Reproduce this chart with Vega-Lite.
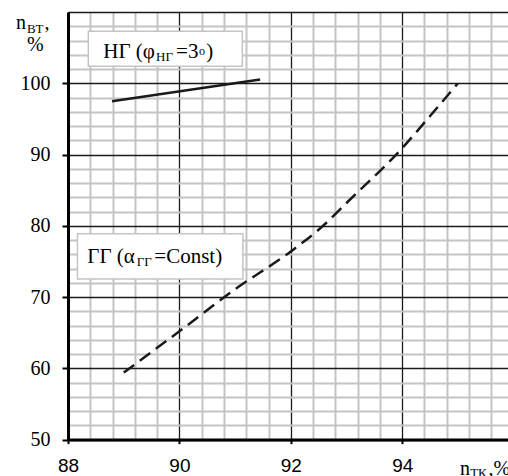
{
  "$schema": "https://vega.github.io/schema/vega-lite/v6.json",
  "width": 445.6,
  "height": 427.6,
  "autosize": {"type": "none"},
  "padding": {"left": 68, "top": 12, "right": 0, "bottom": 36.4},
  "background": "white",
  "config": {"view": {"stroke": null}, "font": "Liberation Serif"},
  "datasets": {
    "curves": [
      {"series": "НГ", "x": 88.79, "y": 97.47},
      {"series": "НГ", "x": 91.45, "y": 100.52},
      {"series": "ГГ", "x": 89.0, "y": 59.4},
      {"series": "ГГ", "x": 90.0, "y": 65.2},
      {"series": "ГГ", "x": 91.0, "y": 71.1},
      {"series": "ГГ", "x": 92.0, "y": 76.4},
      {"series": "ГГ", "x": 92.58, "y": 80.0},
      {"series": "ГГ", "x": 93.0, "y": 83.2},
      {"series": "ГГ", "x": 94.0, "y": 90.9},
      {"series": "ГГ", "x": 94.5, "y": 95.4},
      {"series": "ГГ", "x": 95.0, "y": 100.0}
    ],
    "boxes": [
      {"name": "НГ", "x": 88.365, "x2": 91.13, "y": 107.3, "y2": 102.39},
      {"name": "ГГ", "x": 88.17, "x2": 91.14, "y": 78.87, "y2": 72.55}
    ],
    "labels": [
      {"kind": "legend", "t": "НГ (φ", "x": 88.634, "y": 103.56},
      {"kind": "sub", "t": "НГ", "x": 89.58, "y": 103.09},
      {"kind": "legend", "t": "=3", "x": 89.94, "y": 103.56},
      {"kind": "sup", "t": "o", "x": 90.35, "y": 104.03},
      {"kind": "legend", "t": ")", "x": 90.48, "y": 103.56},
      {"kind": "legend", "t": "ГГ (α", "x": 88.347, "y": 74.8},
      {"kind": "sub", "t": "ГГ", "x": 89.235, "y": 74.32},
      {"kind": "legend", "t": "=Const)", "x": 89.55, "y": 74.8},
      {"kind": "main", "t": "n", "x": 87.066, "y": 107.63},
      {"kind": "sub", "t": "ВТ", "x": 87.264, "y": 107.07},
      {"kind": "main", "t": ",", "x": 87.58, "y": 107.63},
      {"kind": "main", "t": "%", "x": 87.264, "y": 104.49},
      {"kind": "main", "t": "n", "x": 95.04, "y": 45.1},
      {"kind": "sub", "t": "ТК", "x": 95.22, "y": 44.7},
      {"kind": "main", "t": ",%", "x": 95.55, "y": 45.1}
    ]
  },
  "encoding": {
    "x": {
      "field": "x", "type": "quantitative",
      "scale": {"domain": [88, 96], "nice": false, "zero": false},
      "axis": {
        "values": [88, 88.4, 88.8, 89.2, 89.6, 90, 90.4, 90.8, 91.2, 91.6, 92, 92.4, 92.8, 93.2, 93.6, 94, 94.4, 94.8, 95.2, 95.6, 96],
        "tickCount": 100,
        "tickMinStep": 0.1,
        "title": null,
        "grid": true,
        "gridColor": {"condition": {"test": "abs(datum.value/2 - round(datum.value/2)) < 0.01", "value": "#1a1a1a"}, "value": "#c4c4c4"},
        "gridWidth": {"condition": {"test": "abs(datum.value/2 - round(datum.value/2)) < 0.01", "value": 1.3}, "value": 2},
        "labelExpr": "abs(datum.value/2 - round(datum.value/2)) < 0.01 && datum.value < 95 ? format(datum.value, 'd') : ''",
        "tickOpacity": {"condition": {"test": "abs(datum.value/2 - round(datum.value/2)) < 0.01 && datum.value < 95", "value": 1}, "value": 0},
        "tickColor": "black", "tickSize": 4, "tickWidth": 2,
        "domainColor": "black", "domainWidth": 3,
        "labelFont": "Liberation Sans", "labelFontSize": 19, "labelColor": "black",
        "labelPadding": 13, "labelFlush": false, "labelOverlap": false
      }
    },
    "y": {
      "field": "y", "type": "quantitative",
      "scale": {"domain": [50, 110], "nice": false, "zero": false},
      "axis": {
        "values": [50, 52, 54, 56, 58, 60, 62, 64, 66, 68, 70, 72, 74, 76, 78, 80, 82, 84, 86, 88, 90, 92, 94, 96, 98, 100, 102, 104, 106, 108, 110],
        "tickCount": 100,
        "tickMinStep": 0.1,
        "title": null,
        "grid": true,
        "gridColor": {"condition": {"test": "datum.value % 10 === 0", "value": "#1a1a1a"}, "value": "#c4c4c4"},
        "gridWidth": {"condition": {"test": "datum.value % 10 === 0", "value": 1.3}, "value": 2},
        "labelExpr": "datum.value % 10 === 0 && datum.value < 110 ? format(datum.value, 'd') : ''",
        "tickOpacity": {"condition": {"test": "datum.value % 10 === 0 && datum.value < 110", "value": 1}, "value": 0},
        "tickColor": "black", "tickSize": 6, "tickWidth": 2,
        "domainColor": "black", "domainWidth": 3,
        "labelFont": "Liberation Serif", "labelFontSize": 20, "labelColor": "black",
        "labelPadding": 12, "labelFlush": false, "labelOverlap": false
      }
    }
  },
  "layer": [
    {
      "data": {"name": "boxes"},
      "mark": {"type": "rect", "fill": "white", "stroke": "#c4c4c4", "strokeWidth": 1.5},
      "encoding": {
        "x2": {"field": "x2"},
        "y2": {"field": "y2"}
      }
    },
    {
      "data": {"name": "curves"},
      "transform": [{"filter": "datum.series === 'НГ'"}],
      "mark": {"type": "line", "color": "#1a1a1a", "strokeWidth": 2.5},
      "encoding": {}
    },
    {
      "data": {"name": "curves"},
      "transform": [{"filter": "datum.series === 'ГГ'"}],
      "mark": {"type": "line", "color": "#1a1a1a", "strokeWidth": 2.5, "strokeDash": [13, 7], "interpolate": "monotone"},
      "encoding": {}
    },
    {
      "data": {"name": "labels"},
      "transform": [{"filter": "datum.kind === 'main'"}],
      "mark": {"type": "text", "align": "left", "baseline": "alphabetic", "fontSize": 20, "font": "Liberation Serif", "color": "black"},
      "encoding": {"text": {"field": "t"}}
    },
    {
      "data": {"name": "labels"},
      "transform": [{"filter": "datum.kind === 'legend'"}],
      "mark": {"type": "text", "align": "left", "baseline": "alphabetic", "fontSize": 21, "font": "Liberation Serif", "color": "black"},
      "encoding": {"text": {"field": "t"}}
    },
    {
      "data": {"name": "labels"},
      "transform": [{"filter": "datum.kind === 'sub'"}],
      "mark": {"type": "text", "align": "left", "baseline": "alphabetic", "fontSize": 13, "font": "Liberation Serif", "color": "black"},
      "encoding": {"text": {"field": "t"}}
    },
    {
      "data": {"name": "labels"},
      "transform": [{"filter": "datum.kind === 'sup'"}],
      "mark": {"type": "text", "align": "left", "baseline": "alphabetic", "fontSize": 12, "font": "Liberation Serif", "color": "black"},
      "encoding": {"text": {"field": "t"}}
    }
  ]
}
